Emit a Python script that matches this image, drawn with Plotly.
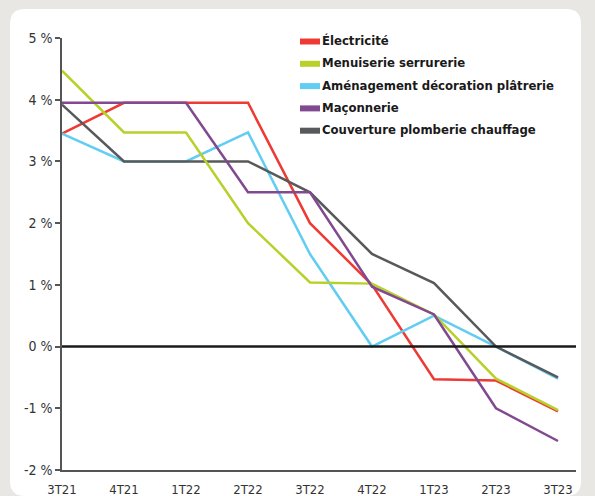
import plotly.graph_objects as go

quarters = ["3T21", "4T21", "1T22", "2T22", "3T22", "4T22", "1T23", "2T23", "3T23"]
series_names = ["Électricité", "Menuiserie serrurerie", "Aménagement décoration plâtrerie",
                "Maçonnerie", "Couverture plomberie chauffage"]
electricite = [3.45, 3.95, 3.95, 3.95, 2.0, 1.0, -0.53, -0.55, -1.05]
menuiserie = [4.47, 3.47, 3.47, 2.0, 1.04, 1.02, 0.52, -0.52, -1.03]
amenagement = [3.45, 3.0, 3.0, 3.47, 1.5, 0.0, 0.5, 0.0, -0.52]
maconnerie = [3.95, 3.95, 3.95, 2.5, 2.5, 0.97, 0.52, -1.0, -1.53]
couverture = [3.92, 3.0, 3.0, 3.0, 2.5, 1.5, 1.03, 0.0, -0.5]
y_ticks = [5, 4, 3, 2, 1, 0, -1, -2]
y_tick_labels = ["5 %", "4 %", "3 %", "2 %", "1 %", "0 %", "-1 %", "-2 %"]

colors = ["#ee3a34", "#b9d02a", "#62cdf2", "#81498f", "#58595b"]
values = [electricite, menuiserie, amenagement, maconnerie, couverture]
order = [0, 2, 4, 1, 3]

FONT = "Liberation Sans Narrow, Arial Narrow, DejaVu Sans Condensed, sans-serif"
W, H = 595, 496
ML, MR, MT, MB = 62, 19, 38, 26

fig = go.Figure()
for i in order:
    fig.add_trace(go.Scatter(
        x=list(range(len(quarters))), y=values[i], mode="lines", name=series_names[i],
        line=dict(color=colors[i], width=2.5), showlegend=False, cliponaxis=False,
    ))

pw = W - ML - MR
ph = H - MT - MB
def px_x(p):
    return (p - ML) / pw
def px_y(p):
    return (H - MB - p) / ph

shapes = []
x0, y0, x1, y1, r = px_x(10), px_y(9), px_x(581), px_y(496), 15
rx, ry = r / pw, r / ph
path = (f"M {x0+rx},{y0} L {x1-rx},{y0} Q {x1},{y0} {x1},{y0-ry} "
        f"L {x1},{y1+ry} Q {x1},{y1} {x1-rx},{y1} L {x0+rx},{y1} Q {x0},{y1} {x0},{y1+ry} "
        f"L {x0},{y0-ry} Q {x0},{y0} {x0+rx},{y0} Z")
shapes.append(dict(type="path", xref="paper", yref="paper", path=path,
                   fillcolor="white", line=dict(width=0), layer="below"))
shapes.append(dict(type="line", xref="paper", yref="y", x0=0, x1=1, y0=0, y1=0,
                   line=dict(color="#1a1a1a", width=2.5), layer="above"))

annotations = []
legend_y0 = 41.5
legend_dy = 22.3
for k, name in enumerate(series_names):
    cy = legend_y0 + k * legend_dy
    shapes.append(dict(type="rect", xref="paper", yref="paper",
                       x0=px_x(300), x1=px_x(320), y0=px_y(cy - 3), y1=px_y(cy + 3),
                       fillcolor=colors[k], line=dict(width=0)))
    annotations.append(dict(xref="paper", yref="paper", x=px_x(320), y=px_y(cy - 1),
                            text=name, showarrow=False, xanchor="left", yanchor="middle",
                            font=dict(family=FONT, size=13, color="#1a1a1a", weight="bold")))

fig.update_layout(
    width=W, height=H, margin=dict(l=ML, r=MR, t=MT, b=MB, autoexpand=False),
    paper_bgcolor="#e8e7e3", plot_bgcolor="rgba(0,0,0,0)",
    shapes=shapes, annotations=annotations, showlegend=False,
    font=dict(family=FONT, size=14, color="#333333"),
)
fig.update_xaxes(
    range=[0, 8 * pw / 496], tickmode="array", tickvals=list(range(len(quarters))),
    ticktext=quarters, showgrid=False, zeroline=False, showline=True, automargin=False,
    linecolor="#555555", linewidth=1.5, ticks="outside", ticklen=7, tickcolor="rgba(0,0,0,0)",
    tickfont=dict(family=FONT, size=13, color="#333333"),
)
fig.update_yaxes(
    range=[-2, 5], tickmode="array", tickvals=y_ticks, ticktext=y_tick_labels, automargin=False,
    showgrid=False, zeroline=False, showline=True, linecolor="#555555", linewidth=1.5,
    ticks="outside", ticklen=5, tickwidth=1.5, tickcolor="#555555",
    tickfont=dict(family=FONT, size=14, color="#333333"),
)
fig.write_html("out.html", config={"displayModeBar": False},
               post_script="document.body.style.margin='0';document.body.style.overflow='hidden';document.body.style.background='#e8e7e3';")
